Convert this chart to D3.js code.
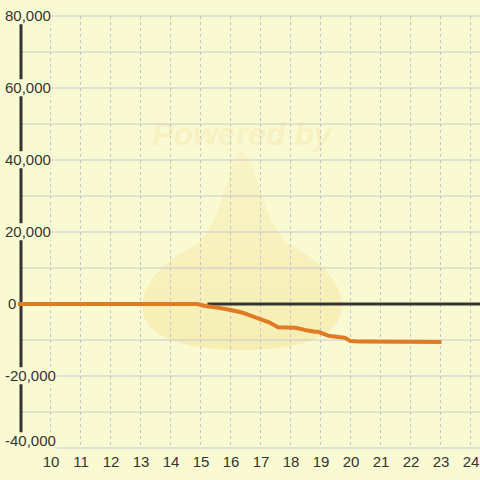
<!DOCTYPE html>
<html lang="en">
<head>
    <meta charset="UTF-8">
    <title>Line chart</title>
    <style>
        body { margin: 0; background-color: #fafad2; }
        svg { display: block; }
        text { font-family: "Liberation Sans", Arial, sans-serif; }
    </style>
    <script src="https://d3js.org/d3.v7.min.js"></script>
</head>
<body>
    <div id="chart"></div>
    <script>
        // series values
        const seriesX = [8.93, 14.9, 15.17, 15.57, 15.9, 16.33, 16.57, 17.33, 17.6, 18.17, 18.5, 18.83, 18.93, 19.27, 19.83, 20.0, 20.33, 23.05];
        const seriesY = [0, 0, -550, -1000, -1450, -2200, -2850, -5200, -6450, -6600, -7200, -7700, -7700, -8800, -9350, -10250, -10450, -10550];
        const baseX = [15.25, 24.4];
        const baseY = [0, 0];
        const xTicks = [10, 11, 12, 13, 14, 15, 16, 17, 18, 19, 20, 21, 22, 23, 24];
        const yTicks = [-40000, -20000, 0, 20000, 40000, 60000, 80000];
        const yGrid = [-40000, -30000, -20000, -10000, 0, 10000, 20000, 30000, 40000, 50000, 60000, 70000, 80000];

        const width = 480, height = 480;
        const bg = "#fafad2";

        const svg = d3.select("#chart").append("svg")
            .attr("width", width)
            .attr("height", height);

        svg.append("rect").attr("width", width).attr("height", height).attr("fill", bg);

        const x = d3.scaleLinear().domain([9, 24.3333]).range([20, 480]);
        const y = d3.scaleLinear().domain([-40000, 80000]).range([448, 16]);

        // faint watermark
        const grad = svg.append("defs").append("linearGradient")
            .attr("id", "wmg").attr("x1", 0).attr("y1", 0).attr("x2", 0).attr("y2", 1);
        grad.append("stop").attr("offset", "0%").attr("stop-color", "#f9f0c0");
        grad.append("stop").attr("offset", "100%").attr("stop-color", "#f5e7a0");
        const wm = svg.append("g").attr("opacity", 0.6);
        wm.append("path")
            .attr("d", "M242,152 C256,152 262,228 292,246 C330,266 345,290 341,312 C336,340 292,350 242,350 C192,350 147,340 143,312 C140,288 158,264 194,246 C224,228 228,152 242,152 Z")
            .attr("fill", "url(#wmg)");
        wm.append("text")
            .attr("x", 242).attr("y", 145)
            .attr("text-anchor", "middle")
            .attr("font-size", 32).attr("font-weight", "bold").attr("font-style", "italic")
            .attr("fill", "#f6ecb8")
            .text("Powered by");

        // horizontal grid
        svg.append("g").selectAll("line")
            .data(yGrid)
            .join("line")
            .attr("x1", 20).attr("x2", width)
            .attr("y1", d => y(d)).attr("y2", d => y(d))
            .attr("stroke", "#c8c8cc").attr("stroke-width", 1);

        // vertical dashed grid
        svg.append("g").selectAll("line")
            .data(xTicks)
            .join("line")
            .attr("x1", d => x(d) + 0.5).attr("x2", d => x(d) + 0.5)
            .attr("y1", y(80000)).attr("y2", y(-40000))
            .attr("stroke", "#c4c4c8").attr("stroke-width", 1)
            .attr("stroke-dasharray", "3,3");

        // y axis line
        svg.append("line")
            .attr("x1", 21).attr("x2", 21)
            .attr("y1", y(80000)).attr("y2", y(-40000))
            .attr("stroke", "#333").attr("stroke-width", 3);

        // series
        const line = d3.line().x(d => x(d[0])).y(d => y(d[1]));
        svg.append("path")
            .datum(d3.zip(baseX, baseY))
            .attr("d", line)
            .attr("fill", "none")
            .attr("stroke", "#333").attr("stroke-width", 3);

        // y tick labels with background
        const fmt = d3.format(",");
        const yl = svg.append("g").selectAll("g")
            .data(yTicks)
            .join("g");
        const ylText = yl.append("text")
            .attr("x", d => d === 0 ? 8 : 5)
            .attr("y", d => Math.min(y(d), 441))
            .attr("dy", "0.35em")
            .attr("text-anchor", "start")
            .attr("font-size", 15)
            .attr("fill", "#333")
            .text(d => d < 0 ? "-" + fmt(-d) : fmt(d));
        ylText.each(function () {
            const b = this.getBBox();
            d3.select(this.parentNode).insert("rect", "text")
                .attr("x", b.x - 1).attr("y", b.y)
                .attr("width", b.width + 2).attr("height", b.height)
                .attr("fill", bg);
        });

        svg.append("path")
            .datum(d3.zip(seriesX, seriesY))
            .attr("d", line)
            .attr("fill", "none")
            .attr("stroke", "#e07b24").attr("stroke-width", 4)
            .attr("stroke-linejoin", "round");

        // x tick labels
        svg.append("g").selectAll("text")
            .data(xTicks)
            .join("text")
            .attr("x", d => x(d) + 1)
            .attr("y", 462)
            .attr("dy", "0.35em")
            .attr("text-anchor", "middle")
            .attr("font-size", 15)
            .attr("fill", "#333")
            .text(d => d);
    </script>
</body>
</html>
